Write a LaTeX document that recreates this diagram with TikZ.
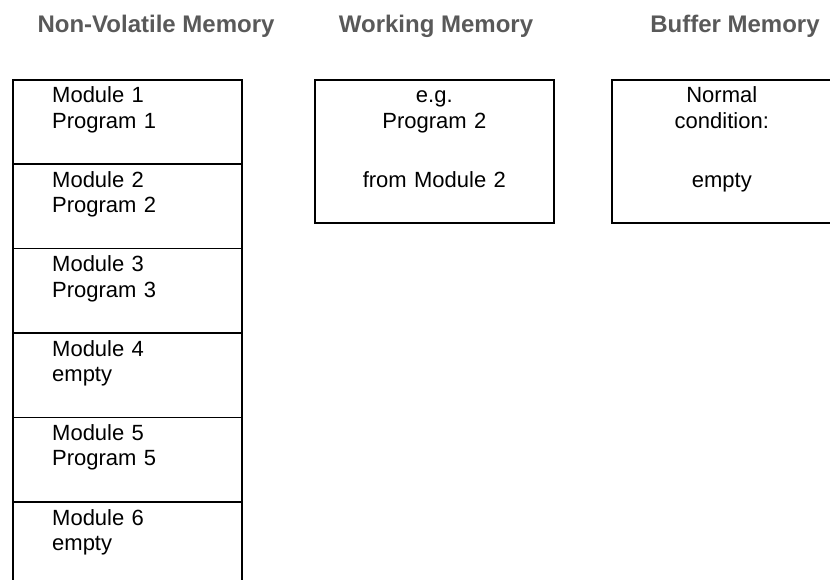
\documentclass[tikz,border=0pt]{standalone}
\usepackage{fontspec}
\setmainfont{Liberation Sans}
\definecolor{headgray}{HTML}{595959}
\tikzset{
  head/.style={anchor=base,inner sep=0pt,text=headgray,font=\fontsize{24}{28}\selectfont\bfseries},
  cell/.style={draw,line width=1.6pt,anchor=north west,minimum width=229pt,minimum height=84.4pt,inner sep=0pt},
  memo/.style={draw,line width=1.6pt,anchor=north west,minimum height=143pt,inner sep=0pt},
  celltext/.style={anchor=base west,inner sep=0pt,text width=180pt,align=left,font=\fontsize{22}{25.3}\selectfont},
  memotext/.style={anchor=base,inner sep=0pt,text width=200pt,align=center,font=\fontsize{22}{25.3}\selectfont}
}
\begin{document}
\begin{tikzpicture}[x=1pt,y=-1pt]
\clip (0,0) rectangle (830,580);
\node [head,name=hnv] at (156,33) {Non-Volatile Memory};
\node [head,name=hwm] at (436,33) {Working Memory};
\node [head,name=hbm] at (735,33) {Buffer Memory};
\node [cell,name=m1] at (12,79) {};
\node [cell,name=m2] at (12,163.4) {};
\node [cell,name=m3] at (12,247.8) {};
\node [cell,name=m4] at (12,332.2) {};
\node [cell,name=m5] at (12,416.6) {};
\node [cell,name=m6] at (12,501) {};
\node [celltext,name=t1] at ([xshift=40pt,yshift=-24pt]m1.north west) {Module 1\\Program 1};
\node [celltext,name=t2] at ([xshift=40pt,yshift=-24pt]m2.north west) {Module 2\\Program 2};
\node [celltext,name=t3] at ([xshift=40pt,yshift=-24pt]m3.north west) {Module 3\\Program 3};
\node [celltext,name=t4] at ([xshift=40pt,yshift=-24pt]m4.north west) {Module 4\\empty};
\node [celltext,name=t5] at ([xshift=40pt,yshift=-24pt]m5.north west) {Module 5\\Program 5};
\node [celltext,name=t6] at ([xshift=40pt,yshift=-24pt]m6.north west) {Module 6\\empty};
\node [memo,minimum width=239pt,name=wm] at (314,79) {};
\node [memo,minimum width=220pt,name=bm] at (611,79) {};
\node [memotext,name=twm] at ([yshift=-24pt]wm.north) {e.g.\\Program 2\\[34pt]from Module 2};
\node [memotext,name=tbm] at ([yshift=-24pt]bm.north) {Normal\\condition:\\[34pt]empty};
\end{tikzpicture}
\end{document}
